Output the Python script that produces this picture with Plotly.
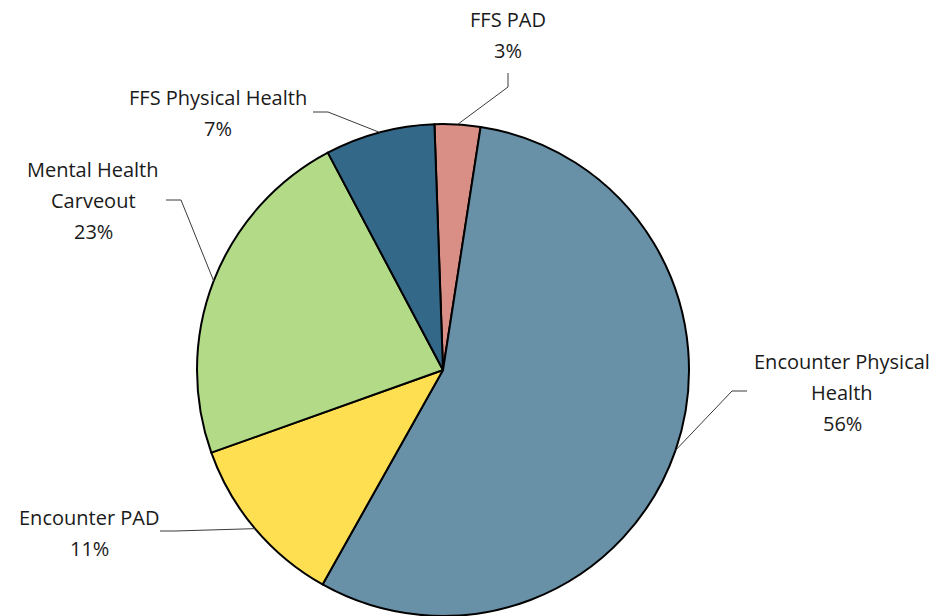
import math
import plotly.graph_objects as go

# ---- data ----
categories = ["FFS PAD", "Encounter Physical Health", "Encounter PAD",
              "Mental Health Carveout", "FFS Physical Health"]
values = [3.0, 55.7, 11.4, 22.7, 7.2]
label_lines = [["FFS PAD"], ["Encounter Physical", "Health"], ["Encounter PAD"],
               ["Mental Health", "Carveout"], ["FFS Physical Health"]]
colors = ["#DA8F86", "#6890A7", "#FFDF52", "#B3DB87", "#346888"]

# ---- layout constants (pixels) ----
W, H = 937, 616
CX, CY, R = 443, 370, 246
ROTATION = -2.0
FONT = "Open Sans"
FS = 20

def px(x):
    return x / W

def py(y):
    return 1 - y / H

fig = go.Figure(go.Pie(
    labels=categories, values=values, sort=False, direction="clockwise",
    rotation=ROTATION, textinfo="none", hoverinfo="label+percent",
    marker=dict(colors=colors, line=dict(color="#000000", width=2)),
    domain=dict(x=[px(CX - R), px(CX + R)], y=[py(CY + R), py(CY - R)]),
    showlegend=False,
))

# label block top-line centres and elbow points of leader lines (pixels)
label_pos = [(508, 20), (842, 361), (89, 517), (93, 169), (218, 97)]
elbows = [
    [(508, 73), (508, 87)],
    [(747, 391), (732, 391)],
    [(160, 531), (175, 531)],
    [(166, 200), (181, 200)],
    [(313, 112), (328, 112)],
]
LINE_H = 31

total = sum(values)
annotations = []
shapes = []
cum = 0.0
for i, v in enumerate(values):
    mid = ROTATION + 360 * (cum + v / 2) / total
    cum += v
    a = math.radians(mid)
    ex, ey = CX + R * math.sin(a), CY - R * math.cos(a)
    lines = label_lines[i] + [f"{round(100 * v / total)}%"]
    lx, ly = label_pos[i]
    for k, t in enumerate(lines):
        annotations.append(dict(
            x=px(lx), y=py(ly + k * LINE_H), xref="paper", yref="paper",
            text=t, showarrow=False, xanchor="center", yanchor="middle",
            font=dict(family=FONT, size=FS, color="#1a1a1a")))
    pts = elbows[i] + [(ex, ey)]
    path = "M " + " L ".join(f"{px(x)},{py(y)}" for x, y in pts)
    shapes.append(dict(type="path", path=path, xref="paper", yref="paper",
                       line=dict(color="#3a3a3a", width=1)))

fig.update_layout(
    width=W, height=H, margin=dict(l=0, r=0, t=0, b=0),
    paper_bgcolor="white", plot_bgcolor="white",
    annotations=annotations, shapes=shapes,
)

fig.write_html("out.html", config={"displayModeBar": False},
               post_script="document.body.style.margin='0';")
